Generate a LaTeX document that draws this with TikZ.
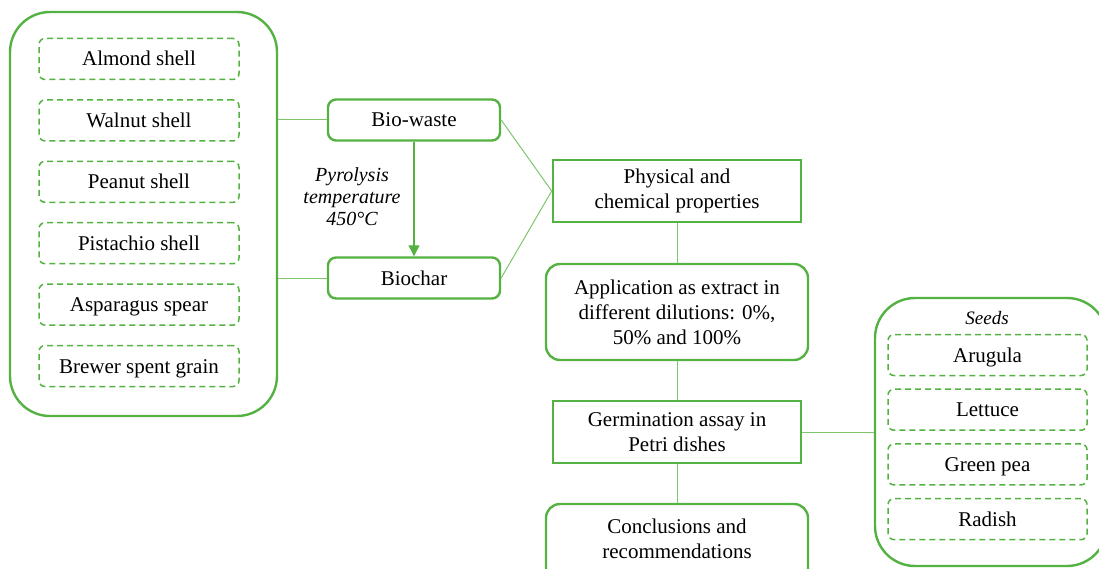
\documentclass[tikz,border=0pt]{standalone}
\usepackage{fontspec}
\setmainfont{Liberation Serif}
\usetikzlibrary{arrows.meta}

\definecolor{leaf}{RGB}{84,178,66}
\definecolor{leaflight}{RGB}{125,198,108}

\tikzset{
  bigbox/.style={draw=leaf, line width=2.4pt, rounded corners=40pt},
  stepbox/.style={draw=leaf, line width=2.6pt, align=center,
      minimum width=248pt, minimum height=62pt,
      font=\fontsize{21}{25}\selectfont},
  roundbox/.style={draw=leaf, line width=2.4pt, rounded corners=14pt, align=center,
      font=\fontsize{21}{25}\selectfont},
  itembox/.style={draw=leaf, line width=1.5pt, dash pattern=on 6pt off 4pt,
      rounded corners=6pt, minimum height=41pt, text height=14pt, text depth=0pt,
      font=\fontsize{21}{25}\selectfont},
  link/.style={draw=leaflight, line width=1pt},
}

\begin{document}
\begin{tikzpicture}[x=1pt, y=-1pt]
  \useasboundingbox (0,0) rectangle (1099,569);

  % bio-waste sources
  \node[bigbox, minimum width=267pt, minimum height=404pt] (src) at (143.5,214) {};
  \foreach \t [count=\i] in {Almond shell, Walnut shell, Peanut shell,
      Pistachio shell, Asparagus spear, Brewer spent grain} {
      \node[itembox, minimum width=200pt] (src\i) at (139, {59+61.4*(\i-1)}) {\t};
  }

  \node[roundbox, rounded corners=8pt, minimum width=172pt, minimum height=41pt]
      (biowaste) at (414,120) {Bio-waste};
  \node[roundbox, rounded corners=8pt, minimum width=172pt, minimum height=41pt]
      (biochar) at (414,278) {Biochar};

  \draw[link] (src.east |- biowaste) -- (biowaste.west);
  \draw[link] (src.east |- biochar) -- (biochar.west);
  \draw[leaf, line width=1.2pt, -{Triangle[width=11pt,length=11pt]}]
      (biowaste) -- (biochar);
  \node[align=center, font=\fontsize{20}{22}\itshape\selectfont] (pyro) at (352,197)
      {Pyrolysis\\temperature\\450°C};

  % main chain
  \node[stepbox] (props) at (677,191) {Physical and\\chemical properties};
  \node[roundbox, minimum width=262pt, minimum height=96pt] (extract) at (677,312)
      {Application as extract in\\different dilutions: 0\%,\\50\% and 100\%};
  \node[stepbox] (germ) at (677,432) {Germination assay in\\Petri dishes};
  \node[roundbox, minimum width=262pt, minimum height=96pt, text depth=26pt]
      (concl) at (677,552) {Conclusions and\\recommendations};

  \draw[link] (biowaste.east) -- (props.west);
  \draw[link] (biochar.east) -- (props.west);
  \draw[link] (props) -- (extract);
  \draw[link] (extract) -- (germ);
  \draw[link] (germ) -- (concl);

  % seeds
  \node[bigbox, minimum width=232pt, minimum height=268pt] (seeds) at (991,432) {};
  \node[font=\fontsize{19}{22}\itshape\selectfont] (seedstitle) at (987,318) {Seeds};
  \foreach \t [count=\i] in {Arugula, Lettuce, Green pea, Radish} {
      \node[itembox, minimum width=199pt] (seed\i) at (987.5, {355+54.7*(\i-1)}) {\t};
  }
  \draw[link] (germ.east) -- (seeds.west);

\end{tikzpicture}
\end{document}
